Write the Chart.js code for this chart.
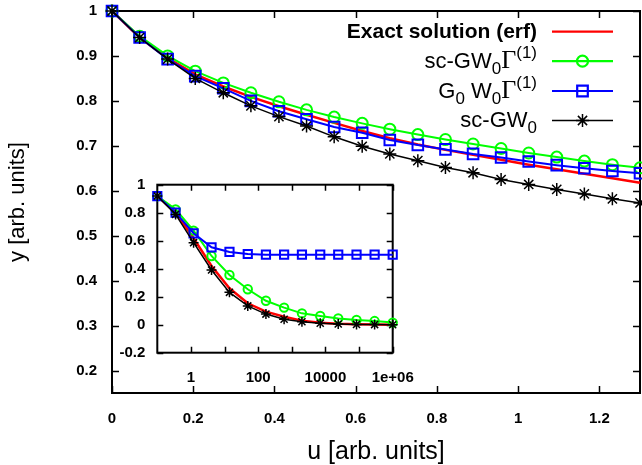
<!DOCTYPE html>
<html>
<head>
<meta charset="utf-8">
<script src="https://cdn.jsdelivr.net/npm/chart.js@4.4.0/dist/chart.umd.min.js"></script>
<style>
  html, body { margin: 0; padding: 0; background: #fff; }
  #wrap { position: relative; width: 642px; height: 465px; }
  #main { position: absolute; left: 0; top: 0; }
  #inset { position: absolute; left: 100px; top: 170px; }
</style>
</head>
<body>
<div id="wrap">
  <canvas id="main" width="642" height="465"></canvas>
  <canvas id="inset" width="320" height="225"></canvas>
</div>
<script>
// main panel, u on a linear axis
const mainU = [0, 0.068, 0.137, 0.205, 0.274, 0.342, 0.411, 0.479, 0.547, 0.616,
               0.684, 0.753, 0.821, 0.889, 0.958, 1.026, 1.095, 1.163, 1.232, 1.3];
const mainExact = [1, 0.941, 0.895, 0.859, 0.832, 0.809, 0.788, 0.769, 0.751, 0.733,
                   0.717, 0.703, 0.691, 0.680, 0.669, 0.658, 0.648, 0.638, 0.628, 0.618];
const mainScGWGamma = [1, 0.944, 0.900, 0.866, 0.840, 0.818, 0.798, 0.780, 0.764, 0.750,
                       0.737, 0.725, 0.714, 0.704, 0.694, 0.684, 0.675, 0.666, 0.658, 0.651];
const mainG0W0Gamma = [1, 0.941, 0.893, 0.855, 0.828, 0.800, 0.777, 0.759, 0.742, 0.729,
                       0.713, 0.702, 0.692, 0.682, 0.674, 0.665, 0.657, 0.650, 0.644, 0.639];
const mainScGW = [1, 0.941, 0.893, 0.850, 0.818, 0.789, 0.765, 0.744, 0.720, 0.699,
                  0.682, 0.667, 0.652, 0.640, 0.625, 0.614, 0.603, 0.593, 0.582, 0.573];
const mainXTicks = [0, 0.2, 0.4, 0.6, 0.8, 1, 1.2];
const mainYTicks = [0.2, 0.3, 0.4, 0.5, 0.6, 0.7, 0.8, 0.9, 1];

// inset, u on a log axis
const insetU = [0.1, 0.35, 1.2, 4.1, 14, 49, 170, 590, 2000, 7000, 24000, 84000, 290000, 1000000];
const insetExact = [0.919, 0.800, 0.617, 0.419, 0.260, 0.153, 0.093, 0.057, 0.029, 0.014, 0.007, 0.003, 0.001, 0.0];
const insetScGWGamma = [0.919, 0.824, 0.672, 0.491, 0.355, 0.253, 0.171, 0.122, 0.081, 0.062, 0.045, 0.034, 0.026, 0.015];
const insetG0W0Gamma = [0.919, 0.800, 0.653, 0.553, 0.520, 0.505, 0.500, 0.500, 0.500, 0.500, 0.500, 0.500, 0.500, 0.500];
const insetScGW = [0.919, 0.788, 0.586, 0.391, 0.231, 0.134, 0.076, 0.039, 0.021, 0.010, 0.005, 0.002, 0.001, 0.0];
const insetXTicks = [1, 10, 100, 1000, 10000, 100000, 1000000];
const insetXLabels = ['1', '', '100', '', '10000', '', '1e+06'];
const insetYTicks = [-0.2, 0, 0.2, 0.4, 0.6, 0.8, 1];

const SANS = '"Liberation Sans", Arial, sans-serif';
const SERIF = '"Liberation Serif", "Times New Roman", serif';
Chart.defaults.font.family = SANS;
Chart.defaults.color = '#000';

function series(xs, ys) {
    return xs.map((x, i) => ({ x: x, y: ys[i] }));
}

function lineSet(label, xs, ys, color, width, style, radius, order) {
    return {
        label: label,
        data: series(xs, ys),
        borderColor: color,
        borderWidth: width,
        pointStyle: style,
        pointRadius: radius,
        pointBorderColor: color,
        pointBorderWidth: width,
        pointBackgroundColor: 'rgba(0,0,0,0)',
        tension: 0,
        clip: false,
        order: order
    };
}

// fixed axis sizes, and no extra padding pushed onto the plot area
function fixSize(prop, size) {
    return s => {
        s[prop] = size;
        s.paddingTop = 0; s.paddingBottom = 0;
        s.paddingLeft = 0; s.paddingRight = 0;
    };
}

// box around the plot with inward ticks on every side
const frameTicks = {
    id: 'frameTicks',
    beforeDatasetsDraw(chart, args, opts) {
        const { ctx, chartArea: a, scales: { x, y } } = chart;
        const len = opts.len || 6;
        ctx.save();
        ctx.strokeStyle = '#000';
        ctx.lineWidth = 1.5;
        ctx.beginPath();
        x.ticks.forEach(t => {
            const px = Math.round(x.getPixelForValue(t.value)) + 0.5;
            ctx.moveTo(px, a.bottom); ctx.lineTo(px, a.bottom - len);
            ctx.moveTo(px, a.top); ctx.lineTo(px, a.top + len);
        });
        y.ticks.forEach(t => {
            const py = Math.round(y.getPixelForValue(t.value)) + 0.5;
            ctx.moveTo(a.left, py); ctx.lineTo(a.left + len, py);
            ctx.moveTo(a.right, py); ctx.lineTo(a.right - len, py);
        });
        ctx.stroke();
        ctx.lineWidth = 2;
        ctx.strokeRect(a.left, a.top, a.right - a.left, a.bottom - a.top);
        ctx.restore();
    }
};

// legend rows with sub/superscripts, text right aligned before the sample
const REG = '22px ' + SANS;
const SMALL = '17px ' + SANS;
const GAMMA = '26px ' + SERIF;
const legendRows = [
    { parts: [{ t: 'Exact solution (erf)', f: 'bold 21px ' + SANS }], color: '#ff0000', mark: null, y: 31.7 },
    { parts: [{ t: 'sc-GW', f: REG }, { t: '0', f: SMALL, dy: 6 }, { t: 'Γ', f: GAMMA },
              { t: '(1)', f: SMALL, dy: -10 }], color: '#00ff00', mark: 'circle', y: 61.2 },
    { parts: [{ t: 'G', f: REG }, { t: '0', f: SMALL, dy: 6 }, { t: ' W', f: REG },
              { t: '0', f: SMALL, dy: 6 }, { t: 'Γ', f: GAMMA }, { t: '(1)', f: SMALL, dy: -10 }],
      color: '#0000ff', mark: 'rect', y: 91 },
    { parts: [{ t: 'sc-GW', f: REG }, { t: '0', f: SMALL, dy: 6 }], color: '#000000', mark: 'star', y: 120.5 }
];

function drawMark(ctx, mark, x, y) {
    ctx.beginPath();
    if (mark === 'circle') {
        ctx.arc(x, y, 5.5, 0, Math.PI * 2);
    } else if (mark === 'rect') {
        ctx.rect(x - 5.3, y - 5.3, 10.6, 10.6);
    } else if (mark === 'star') {
        for (let k = 0; k < 4; k++) {
            const r = k * Math.PI / 4;
            ctx.moveTo(x - Math.cos(r) * 6.5, y - Math.sin(r) * 6.5);
            ctx.lineTo(x + Math.cos(r) * 6.5, y + Math.sin(r) * 6.5);
        }
    }
    ctx.stroke();
}

const richLegend = {
    id: 'richLegend',
    afterDraw(chart) {
        const ctx = chart.ctx;
        const textRight = 537, lineL = 552, lineR = 613;
        ctx.save();
        ctx.textBaseline = 'alphabetic';
        ctx.textAlign = 'left';
        legendRows.forEach(row => {
            const base = row.y + 6.5;
            let total = 0;
            row.parts.forEach(p => { ctx.font = p.f; p.w = ctx.measureText(p.t).width; total += p.w; });
            let x = textRight - total;
            ctx.fillStyle = '#000';
            row.parts.forEach(p => {
                ctx.font = p.f;
                ctx.fillText(p.t, x, base + (p.dy || 0));
                x += p.w;
            });
            ctx.strokeStyle = row.color;
            ctx.lineWidth = row.mark === 'star' ? 1.5 : 2.2;
            ctx.beginPath();
            ctx.moveTo(lineL, row.y);
            ctx.lineTo(lineR, row.y);
            ctx.stroke();
            if (row.mark) drawMark(ctx, row.mark, (lineL + lineR) / 2, row.y);
        });
        ctx.restore();
    }
};

const tickFont = { size: 15, weight: 'bold' };
const noGrid = { display: false, drawTicks: false };

new Chart(document.getElementById('main'), {
    type: 'line',
    data: {
        datasets: [
            lineSet('Exact solution (erf)', mainU, mainExact, '#ff0000', 2.5, 'circle', 0, 4),
            lineSet('sc-GW0Γ(1)', mainU, mainScGWGamma, '#00ff00', 2, 'circle', 5.5, 3),
            lineSet('G0 W0Γ(1)', mainU, mainG0W0Gamma, '#0000ff', 2, 'rect', 7.5, 2),
            lineSet('sc-GW0', mainU, mainScGW, '#000000', 1.5, 'star', 6.5, 1)
        ]
    },
    options: {
        responsive: false,
        animation: false,
        events: [],
        layout: { autoPadding: false, padding: { top: 11, right: 2, left: 0, bottom: 0 } },
        plugins: {
            legend: { display: false },
            tooltip: { enabled: false },
            frameTicks: { len: 7 }
        },
        scales: {
            x: {
                type: 'linear',
                min: 0,
                max: 1.3,
                grid: noGrid,
                border: { display: false },
                afterBuildTicks: s => { s.ticks = mainXTicks.map(v => ({ value: v })); },
                afterFit: fixSize('height', 72),
                ticks: { font: tickFont, padding: 17, maxRotation: 0, autoSkip: false,
                         callback: v => String(v) },
                title: { display: true, text: 'u [arb. units]',
                         font: { size: 25, lineHeight: 1 }, padding: { top: 0, bottom: 0 } }
            },
            y: {
                min: 0.15,
                max: 1,
                grid: noGrid,
                border: { display: false },
                afterBuildTicks: s => { s.ticks = mainYTicks.map(v => ({ value: v })); },
                afterFit: fixSize('width', 112),
                ticks: { font: tickFont, padding: 15, autoSkip: false, callback: v => String(v) },
                title: { display: true, text: 'y [arb. units]',
                         font: { size: 22, lineHeight: 1 }, padding: { top: 7, bottom: 0 } }
            }
        }
    },
    plugins: [frameTicks, richLegend]
});

new Chart(document.getElementById('inset'), {
    type: 'line',
    data: {
        datasets: [
            lineSet('Exact solution (erf)', insetU, insetExact, '#ff0000', 2.5, 'circle', 0, 4),
            lineSet('sc-GW0Γ(1)', insetU, insetScGWGamma, '#00ff00', 2, 'circle', 4.2, 3),
            lineSet('G0 W0Γ(1)', insetU, insetG0W0Gamma, '#0000ff', 2, 'rect', 5.8, 2),
            lineSet('sc-GW0', insetU, insetScGW, '#000000', 1.5, 'star', 5, 1)
        ]
    },
    options: {
        responsive: false,
        animation: false,
        events: [],
        layout: { autoPadding: false, padding: { top: 14.7, right: 27.3, left: 0, bottom: 0 } },
        plugins: {
            legend: { display: false },
            tooltip: { enabled: false },
            frameTicks: { len: 6 }
        },
        scales: {
            x: {
                type: 'logarithmic',
                min: 0.1,
                max: 1000000,
                grid: noGrid,
                border: { display: false },
                afterBuildTicks: s => { s.ticks = insetXTicks.map(v => ({ value: v })); },
                afterFit: fixSize('height', 42.3),
                ticks: { font: tickFont, padding: 16, maxRotation: 0, autoSkip: false,
                         callback: (v, i) => insetXLabels[i] }
            },
            y: {
                min: -0.2,
                max: 1,
                grid: noGrid,
                border: { display: false },
                afterBuildTicks: s => { s.ticks = insetYTicks.map(v => ({ value: v })); },
                afterFit: fixSize('width', 57.3),
                ticks: { font: tickFont, padding: 12, autoSkip: false, callback: v => String(v) }
            }
        }
    },
    plugins: [frameTicks]
});
</script>
</body>
</html>
